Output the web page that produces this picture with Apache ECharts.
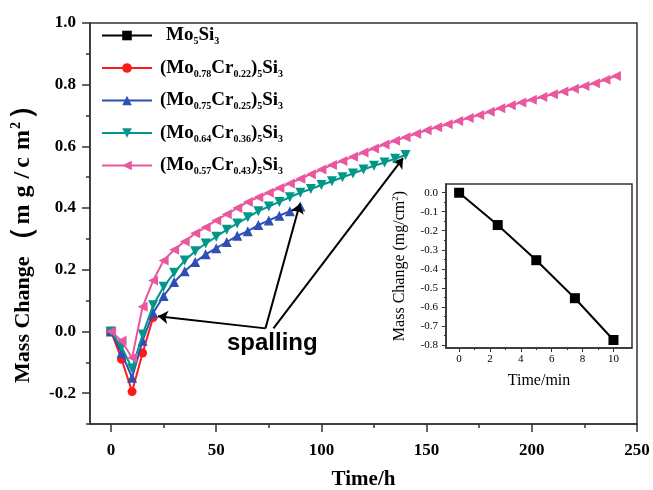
<!DOCTYPE html>
<html><head><meta charset="utf-8">
<script src="https://cdn.jsdelivr.net/npm/echarts@6/dist/echarts.min.js"></script>
<style>html,body{margin:0;padding:0;background:#fff}#c{width:653px;height:490px}</style>
</head><body><div id="c"></div>
<script>
// ---- data ----
const seriesNames = ['Mo5Si3', '(Mo0.78Cr0.22)5Si3', '(Mo0.75Cr0.25)5Si3', '(Mo0.64Cr0.36)5Si3', '(Mo0.57Cr0.43)5Si3'];
const legendLabels = [
  '{g|  }{n|Mo}{s|5}{n|Si}{s|3}',
  '{n|(Mo}{s|0.78}{n|Cr}{s|0.22}{n|)}{s|5}{n|Si}{s|3}',
  '{n|(Mo}{s|0.75}{n|Cr}{s|0.25}{n|)}{s|5}{n|Si}{s|3}',
  '{n|(Mo}{s|0.64}{n|Cr}{s|0.36}{n|)}{s|5}{n|Si}{s|3}',
  '{n|(Mo}{s|0.57}{n|Cr}{s|0.43}{n|)}{s|5}{n|Si}{s|3}'
];
const timeMo5Si3 = [0];
const massMo5Si3 = [0];
const timeCr22 = [0, 5, 10, 15, 20];
const massCr22 = [0, -0.09, -0.195, -0.07, 0.045];
const timeCr25 = [0, 5, 10, 15, 20, 25, 30, 35, 40, 45, 50, 55, 60, 65, 70, 75, 80, 85, 90];
const massCr25 = [0, -0.07, -0.15, -0.03, 0.06, 0.115, 0.16, 0.195, 0.225, 0.25, 0.27, 0.29, 0.31, 0.325, 0.345, 0.36, 0.375, 0.39, 0.405];
const timeCr36 = [0, 5, 10, 15, 20, 25, 30, 35, 40, 45, 50, 55, 60, 65, 70, 75, 80, 85, 90, 95, 100, 105, 110, 115, 120, 125, 130, 135, 140];
const massCr36 = [0, -0.05, -0.12, -0.01, 0.085, 0.145, 0.19, 0.23, 0.26, 0.285, 0.307, 0.33, 0.35, 0.37, 0.39, 0.405, 0.42, 0.435, 0.45, 0.462, 0.475, 0.487, 0.5, 0.512, 0.525, 0.537, 0.548, 0.56, 0.572];
const timeCr43 = [0, 5, 10, 15, 20, 25, 30, 35, 40, 45, 50, 55, 60, 65, 70, 75, 80, 85, 90, 95, 100, 105, 110, 115, 120, 125, 130, 135, 140, 145, 150, 155, 160, 165, 170, 175, 180, 185, 190, 195, 200, 205, 210, 215, 220, 225, 230, 235, 240];
const massCr43 = [0, -0.03, -0.085, 0.08, 0.165, 0.23, 0.265, 0.292, 0.318, 0.338, 0.36, 0.38, 0.4, 0.42, 0.435, 0.45, 0.465, 0.48, 0.495, 0.51, 0.525, 0.54, 0.553, 0.566, 0.58, 0.593, 0.606, 0.618, 0.63, 0.641, 0.652, 0.662, 0.672, 0.682, 0.692, 0.702, 0.712, 0.724, 0.733, 0.742, 0.751, 0.76, 0.769, 0.778, 0.787, 0.796, 0.805, 0.816, 0.828];
// inset: Mo5Si3 first 10 minutes
const insetTime = [0, 2.5, 5, 7.5, 10];
const insetMass = [0, -0.17, -0.355, -0.555, -0.775];
// tick values
const mainXLabels = [0, 50, 100, 150, 200, 250];
const mainXMinor = [25, 75, 125, 175, 225];
const mainYLabels = [-0.2, 0, 0.2, 0.4, 0.6, 0.8, 1.0];
const mainYMinor = [-0.3, -0.1, 0.1, 0.3, 0.5, 0.7, 0.9];
const insetXLabels = [0, 2, 4, 6, 8, 10];
const insetXMinor = [1, 3, 5, 7, 9];
const insetYLabels = [0, -0.1, -0.2, -0.3, -0.4, -0.5, -0.6, -0.7, -0.8];
const insetYMinor = [-0.05, -0.15, -0.25, -0.35, -0.45, -0.55, -0.65, -0.75];
// annotation arrows (data coords: [start, end])
const spallingArrows = [
  [[73.4, 0.01], [22.3, 0.049]],
  [[73.4, 0.01], [89.8, 0.415]],
  [[77.2, 0.01], [138.8, 0.562]]
];

const colors = ['#000000', '#ff1a1a', '#2e4fb5', '#00968a', '#e9579f'];
const symbols = ['rect', 'circle', 'triangle', 'triangle', 'triangle'];
const rotations = [0, 0, 0, 180, 90];
const times = [timeMo5Si3, timeCr22, timeCr25, timeCr36, timeCr43];
const masses = [massMo5Si3, massCr22, massCr25, massCr36, massCr43];

const SERIF = '"Liberation Serif", "Times New Roman", serif';
const AX = '#333';
const pair = (xs, ys) => xs.map((x, i) => [x, ys[i]]);

const mainSeries = seriesNames.map((name, i) => ({
  name, type: 'line', xAxisIndex: 0, yAxisIndex: 0,
  data: pair(times[i], masses[i]),
  symbol: symbols[i], symbolRotate: rotations[i], symbolSize: i <= 1 ? 9 : 10,
  showAllSymbol: true,
  lineStyle: { color: colors[i], width: 2 },
  itemStyle: { color: colors[i] },
  z: 2 + i
}));

const arrowSeries = {
  name: 'arrows', type: 'line', xAxisIndex: 0, yAxisIndex: 0, data: [], silent: true,
  markLine: {
    silent: true, symbol: ['none', 'arrow'], symbolSize: 10, animation: false,
    lineStyle: { color: '#000', width: 2, type: 'solid' },
    label: { show: false },
    data: spallingArrows.map(a => [{ coord: a[0] }, { coord: a[1] }])
  },
  z: 10
};

const insetSeries = {
  name: 'inset', type: 'line', xAxisIndex: 2, yAxisIndex: 2,
  data: pair(insetTime, insetMass),
  symbol: 'rect', symbolSize: 10,
  lineStyle: { color: '#000', width: 2 }, itemStyle: { color: '#000' }, z: 20
};

const legendMap = {};
seriesNames.forEach((n, i) => legendMap[n] = legendLabels[i]);

const B = { fontFamily: SERIF, fontWeight: 'bold', color: '#000' };
const U = { ...B, fontSize: 24, lineHeight: 28, padding: [0, 7, 0, 0] };

const option = {
  animation: false,
  backgroundColor: '#fff',
  grid: [
    { left: 90, top: 23, right: 16, bottom: 66, show: true, borderColor: AX, borderWidth: 1.5, backgroundColor: 'transparent', containLabel: false, outerBoundsMode: 'none' },
    { left: 446, top: 184, width: 186, height: 164, show: true, borderColor: AX, borderWidth: 1.5, backgroundColor: '#fff', z: 15, containLabel: false, outerBoundsMode: 'none' }
  ],
  legend: {
    data: seriesNames, orient: 'vertical', left: 101, top: 26, padding: 0,
    itemWidth: 50, itemHeight: 12, itemGap: 12,
    formatter: n => legendMap[n],
    textStyle: {
      color: '#000', fontFamily: SERIF, fontWeight: 'bold', fontSize: 18, padding: [0, 0, 0, 3],
      rich: {
        g: { ...B, fontSize: 12, lineHeight: 22 },
        n: { ...B, fontSize: 19, lineHeight: 22 },
        s: { ...B, fontSize: 10, lineHeight: 8, verticalAlign: 'bottom' }
      }
    }
  },
  xAxis: [
    {
      type: 'value', gridIndex: 0, min: -10, max: 250, position: 'bottom',
      name: 'Time/h', nameLocation: 'middle', nameGap: 45,
      nameTextStyle: { ...B, fontSize: 21 },
      axisLine: { show: true, onZero: false, lineStyle: { color: AX, width: 1.5 } },
      axisTick: { show: true, customValues: mainXLabels, length: 8, lineStyle: { color: AX, width: 1.5 } },
      axisLabel: { customValues: mainXLabels, margin: 18, ...B, fontSize: 17 },
      splitLine: { show: false }
    },
    {
      type: 'value', gridIndex: 0, min: -10, max: 250, position: 'bottom',
      axisLine: { show: false, onZero: false },
      axisTick: { show: true, customValues: mainXMinor, length: 4, lineStyle: { color: AX, width: 1.5 } },
      axisLabel: { show: false }, splitLine: { show: false }
    },
    {
      type: 'value', gridIndex: 1, min: -0.85, max: 11.2, position: 'bottom',
      name: 'Time/min', nameLocation: 'middle', nameGap: 25,
      nameTextStyle: { fontFamily: SERIF, fontSize: 16, color: '#000' },
      axisLine: { show: true, onZero: false, lineStyle: { color: AX, width: 1.5 } },
      axisTick: { show: true, customValues: insetXLabels, length: 4, lineStyle: { color: AX, width: 1 } },
      axisLabel: { customValues: insetXLabels, margin: 6, fontFamily: SERIF, fontSize: 11, color: '#000' },
      splitLine: { show: false }, z: 16
    },
    {
      type: 'value', gridIndex: 1, min: -0.85, max: 11.2, position: 'bottom',
      axisLine: { show: false, onZero: false },
      axisTick: { show: true, customValues: insetXMinor, length: 2, lineStyle: { color: AX, width: 1 } },
      axisLabel: { show: false }, splitLine: { show: false }, z: 16
    }
  ],
  yAxis: [
    {
      type: 'value', gridIndex: 0, min: -0.3, max: 1.0, position: 'left',
      name: '{t|Mass Change}{pl|（}{u|m}{u|g}{w|/}{u|c}{v|m}{p|2}{pr|）}', nameLocation: 'middle', nameGap: 48, nameRotate: 90,
      nameTextStyle: {
        ...B, fontSize: 22,
        rich: {
          t: { ...B, fontSize: 22, lineHeight: 28 },
          pl: { ...B, fontSize: 30, lineHeight: 28, padding: [0, 2, 0, 0] },
          u: U,
          w: { ...U, padding: [0, 4, 0, 0] },
          v: { ...B, fontSize: 24, lineHeight: 28 },
          p: { ...B, fontSize: 14, lineHeight: 28, verticalAlign: 'top', padding: [0, 2, 0, 1] },
          pr: { ...B, fontSize: 30, lineHeight: 28, padding: [0, 26, 0, 0] }
        }
      },
      axisLine: { show: true, onZero: false, lineStyle: { color: AX, width: 1.5 } },
      axisTick: { show: true, customValues: mainYLabels, length: 8, lineStyle: { color: AX, width: 1.5 } },
      axisLabel: { customValues: mainYLabels, margin: 14, formatter: v => v.toFixed(1), ...B, fontSize: 17 },
      splitLine: { show: false }
    },
    {
      type: 'value', gridIndex: 0, min: -0.3, max: 1.0, position: 'left',
      axisLine: { show: false, onZero: false },
      axisTick: { show: true, customValues: mainYMinor, length: 4, lineStyle: { color: AX, width: 1.5 } },
      axisLabel: { show: false }, splitLine: { show: false }
    },
    {
      type: 'value', gridIndex: 1, min: -0.817, max: 0.046, position: 'left',
      name: '{t|Mass Change (mg/cm}{p|2}{t|)}', nameLocation: 'middle', nameGap: 37, nameRotate: 90,
      nameTextStyle: {
        fontFamily: SERIF, fontSize: 16, color: '#000',
        rich: {
          t: { fontFamily: SERIF, fontSize: 16, lineHeight: 18, color: '#000' },
          p: { fontFamily: SERIF, fontSize: 9, lineHeight: 18, verticalAlign: 'top', color: '#000' }
        }
      },
      axisLine: { show: true, onZero: false, lineStyle: { color: AX, width: 1.5 } },
      axisTick: { show: true, customValues: insetYLabels, length: 4, lineStyle: { color: AX, width: 1 } },
      axisLabel: { customValues: insetYLabels, margin: 8, formatter: v => v.toFixed(1), fontFamily: SERIF, fontSize: 11, color: '#000' },
      splitLine: { show: false }, z: 16
    },
    {
      type: 'value', gridIndex: 1, min: -0.817, max: 0.046, position: 'left',
      axisLine: { show: false, onZero: false },
      axisTick: { show: true, customValues: insetYMinor, length: 2, lineStyle: { color: AX, width: 1 } },
      axisLabel: { show: false }, splitLine: { show: false }, z: 16
    }
  ],
  graphic: [
    { type: 'text', left: 227, top: 331, z: 30, style: { text: 'spalling', font: 'bold 24px "Liberation Sans", Arial, sans-serif', fill: '#000' } }
  ],
  series: [...mainSeries, arrowSeries, insetSeries]
};

const chart = echarts.init(document.getElementById('c'), null, { renderer: 'canvas' });
chart.setOption(option);
</script>
</body></html>
